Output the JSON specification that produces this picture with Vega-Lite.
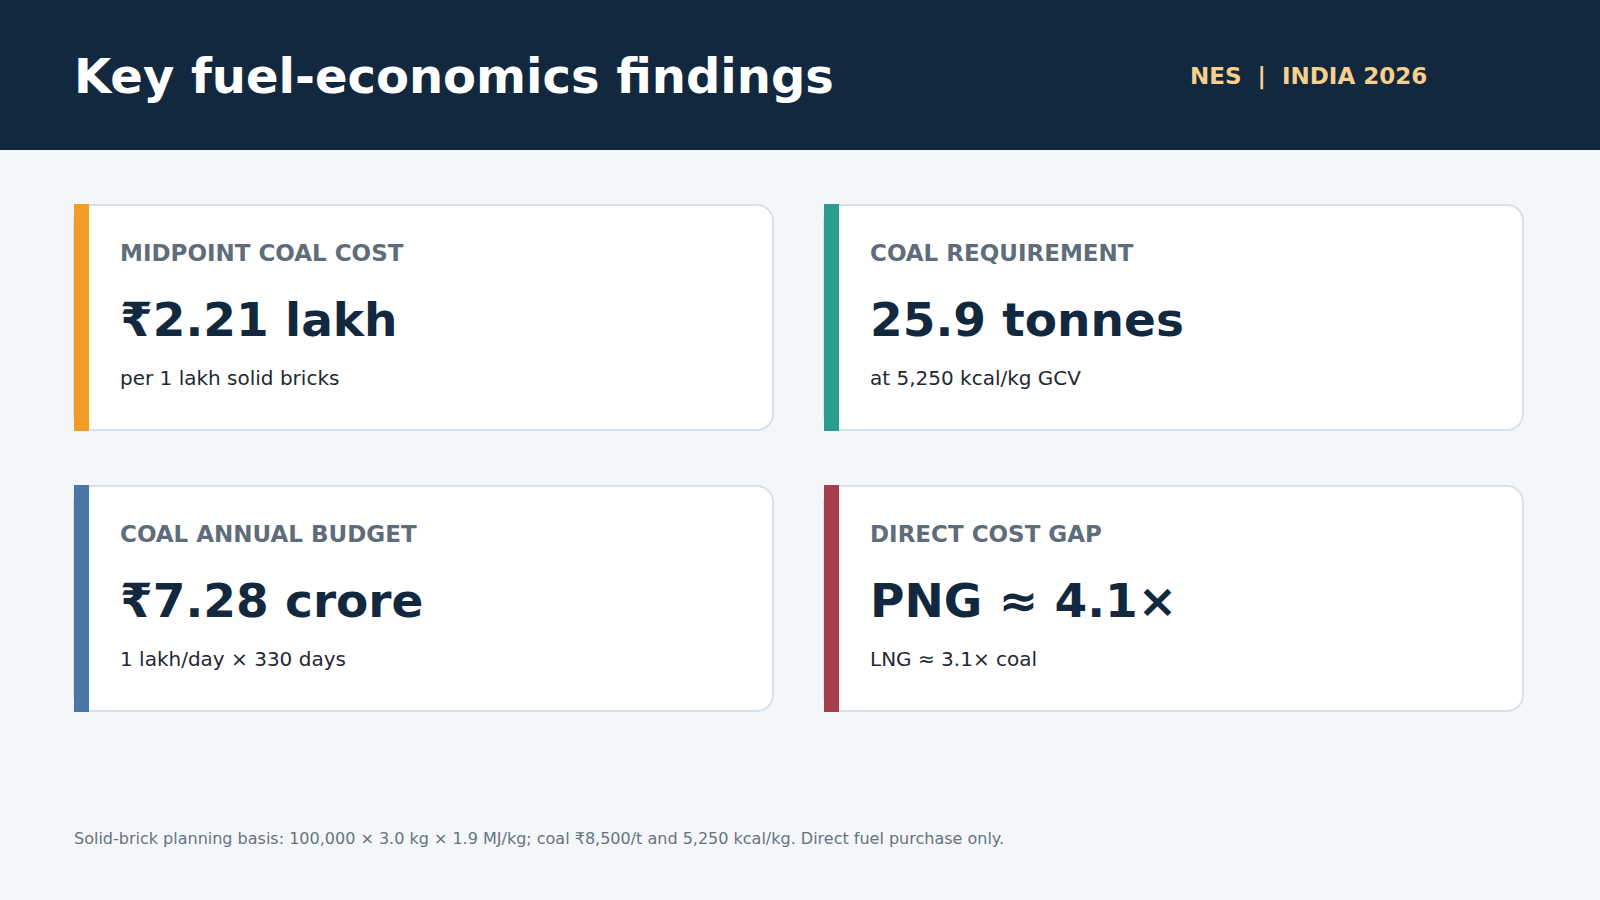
{
  "$schema": "https://vega.github.io/schema/vega-lite/v6.json",
  "background": "#f4f7fa",
  "padding": 0,
  "spacing": 54,
  "config": {
    "view": {"stroke": null},
    "font": "DejaVu Sans",
    "text": {"font": "DejaVu Sans"}
  },
  "datasets": {
    "cards": [
      {"label": "MIDPOINT COAL COST", "value": "₹2.21 lakh", "note": "per 1 lakh solid bricks"},
      {"label": "COAL REQUIREMENT", "value": "25.9 tonnes", "note": "at 5,250 kcal/kg GCV"},
      {"label": "COAL ANNUAL BUDGET", "value": "₹7.28 crore", "note": "1 lakh/day × 330 days"},
      {"label": "DIRECT COST GAP", "value": "PNG ≈ 4.1×", "note": "LNG ≈ 3.1× coal"}
    ]
  },
  "vconcat": [
    {
      "width": 1600,
      "height": 150,
      "view": {"fill": "#12283f", "stroke": null},
      "data": {"values": [
        {"title": "Key fuel-economics findings", "badge": "NES \u00a0|\u00a0 INDIA 2026"}
      ]},
      "layer": [
        {
          "mark": {"type": "text", "align": "left", "baseline": "alphabetic", "fontSize": 48, "fontWeight": "bold", "color": "#ffffff"},
          "encoding": {"x": {"value": 74}, "y": {"value": 93}, "text": {"field": "title"}}
        },
        {
          "mark": {"type": "text", "align": "left", "baseline": "alphabetic", "fontSize": 23, "fontWeight": "bold", "color": "#f9cf8e", "letterSpacing": 0.5},
          "encoding": {"x": {"value": 1190}, "y": {"value": 84}, "text": {"field": "badge"}}
        }
      ]
    },
    {
      "spacing": 49,
      "hconcat": [
        {"width": 24, "height": 225, "data": {"values": []}, "mark": "point"},
        {
          "width": 699, "height": 225,
          "data": {"name": "cards"},
          "transform": [{"filter": "datum.label === 'MIDPOINT COAL COST'"}],
          "layer": [
            {"mark": {"type": "rect", "fill": "#ffffff", "stroke": "#d9e1e8", "strokeWidth": 2, "cornerRadius": 16},
             "encoding": {"x": {"value": 0}, "x2": {"value": "width"}, "y": {"value": 0}, "y2": {"value": "height"}}},
            {"mark": {"type": "rect", "color": "#f39c25", "yOffset": -1, "y2Offset": 1},
             "encoding": {"x": {"value": 0}, "x2": {"value": 15}, "y": {"value": 0}, "y2": {"value": "height"}}},
            {"mark": {"type": "text", "align": "left", "baseline": "alphabetic", "fontSize": 23, "fontWeight": "bold", "color": "#5f6c7a", "letterSpacing": 0.6},
             "encoding": {"x": {"value": 46}, "y": {"value": 56}, "text": {"field": "label"}}},
            {"mark": {"type": "text", "align": "left", "baseline": "alphabetic", "fontSize": 47, "fontWeight": "bold", "color": "#12283f"},
             "encoding": {"x": {"value": 46}, "y": {"value": 131}, "text": {"field": "value"}}},
            {"mark": {"type": "text", "align": "left", "baseline": "alphabetic", "fontSize": 20, "color": "#1f2933"},
             "encoding": {"x": {"value": 46}, "y": {"value": 180}, "text": {"field": "note"}}}
          ]
        },
        {
          "width": 699, "height": 225,
          "data": {"name": "cards"},
          "transform": [{"filter": "datum.label === 'COAL REQUIREMENT'"}],
          "layer": [
            {"mark": {"type": "rect", "fill": "#ffffff", "stroke": "#d9e1e8", "strokeWidth": 2, "cornerRadius": 16},
             "encoding": {"x": {"value": 0}, "x2": {"value": "width"}, "y": {"value": 0}, "y2": {"value": "height"}}},
            {"mark": {"type": "rect", "color": "#2a9d8f", "yOffset": -1, "y2Offset": 1},
             "encoding": {"x": {"value": 0}, "x2": {"value": 15}, "y": {"value": 0}, "y2": {"value": "height"}}},
            {"mark": {"type": "text", "align": "left", "baseline": "alphabetic", "fontSize": 23, "fontWeight": "bold", "color": "#5f6c7a", "letterSpacing": 0.6},
             "encoding": {"x": {"value": 46}, "y": {"value": 56}, "text": {"field": "label"}}},
            {"mark": {"type": "text", "align": "left", "baseline": "alphabetic", "fontSize": 47, "fontWeight": "bold", "color": "#12283f"},
             "encoding": {"x": {"value": 46}, "y": {"value": 131}, "text": {"field": "value"}}},
            {"mark": {"type": "text", "align": "left", "baseline": "alphabetic", "fontSize": 20, "color": "#1f2933"},
             "encoding": {"x": {"value": 46}, "y": {"value": 180}, "text": {"field": "note"}}}
          ]
        }
      ]
    },
    {
      "spacing": 49,
      "hconcat": [
        {"width": 24, "height": 225, "data": {"values": []}, "mark": "point"},
        {
          "width": 699, "height": 225,
          "data": {"name": "cards"},
          "transform": [{"filter": "datum.label === 'COAL ANNUAL BUDGET'"}],
          "layer": [
            {"mark": {"type": "rect", "fill": "#ffffff", "stroke": "#d9e1e8", "strokeWidth": 2, "cornerRadius": 16},
             "encoding": {"x": {"value": 0}, "x2": {"value": "width"}, "y": {"value": 0}, "y2": {"value": "height"}}},
            {"mark": {"type": "rect", "color": "#4a77a8", "yOffset": -1, "y2Offset": 1},
             "encoding": {"x": {"value": 0}, "x2": {"value": 15}, "y": {"value": 0}, "y2": {"value": "height"}}},
            {"mark": {"type": "text", "align": "left", "baseline": "alphabetic", "fontSize": 23, "fontWeight": "bold", "color": "#5f6c7a", "letterSpacing": 0.6},
             "encoding": {"x": {"value": 46}, "y": {"value": 56}, "text": {"field": "label"}}},
            {"mark": {"type": "text", "align": "left", "baseline": "alphabetic", "fontSize": 47, "fontWeight": "bold", "color": "#12283f"},
             "encoding": {"x": {"value": 46}, "y": {"value": 131}, "text": {"field": "value"}}},
            {"mark": {"type": "text", "align": "left", "baseline": "alphabetic", "fontSize": 20, "color": "#1f2933"},
             "encoding": {"x": {"value": 46}, "y": {"value": 180}, "text": {"field": "note"}}}
          ]
        },
        {
          "width": 699, "height": 225,
          "data": {"name": "cards"},
          "transform": [{"filter": "datum.label === 'DIRECT COST GAP'"}],
          "layer": [
            {"mark": {"type": "rect", "fill": "#ffffff", "stroke": "#d9e1e8", "strokeWidth": 2, "cornerRadius": 16},
             "encoding": {"x": {"value": 0}, "x2": {"value": "width"}, "y": {"value": 0}, "y2": {"value": "height"}}},
            {"mark": {"type": "rect", "color": "#a63d4a", "yOffset": -1, "y2Offset": 1},
             "encoding": {"x": {"value": 0}, "x2": {"value": 15}, "y": {"value": 0}, "y2": {"value": "height"}}},
            {"mark": {"type": "text", "align": "left", "baseline": "alphabetic", "fontSize": 23, "fontWeight": "bold", "color": "#5f6c7a", "letterSpacing": 0.6},
             "encoding": {"x": {"value": 46}, "y": {"value": 56}, "text": {"field": "label"}}},
            {"mark": {"type": "text", "align": "left", "baseline": "alphabetic", "fontSize": 47, "fontWeight": "bold", "color": "#12283f"},
             "encoding": {"x": {"value": 46}, "y": {"value": 131}, "text": {"field": "value"}}},
            {"mark": {"type": "text", "align": "left", "baseline": "alphabetic", "fontSize": 20, "color": "#1f2933"},
             "encoding": {"x": {"value": 46}, "y": {"value": 180}, "text": {"field": "note"}}}
          ]
        }
      ]
    },
    {
      "width": 1600,
      "height": 134,
      "data": {"values": [
        {"footnote": "Solid-brick planning basis: 100,000 × 3.0 kg × 1.9 MJ/kg; coal ₹8,500/t and 5,250 kcal/kg. Direct fuel purchase only."}
      ]},
      "mark": {"type": "text", "align": "left", "baseline": "alphabetic", "fontSize": 16, "color": "#67737f"},
      "encoding": {"x": {"value": 74}, "y": {"value": 78}, "text": {"field": "footnote"}}
    }
  ]
}
